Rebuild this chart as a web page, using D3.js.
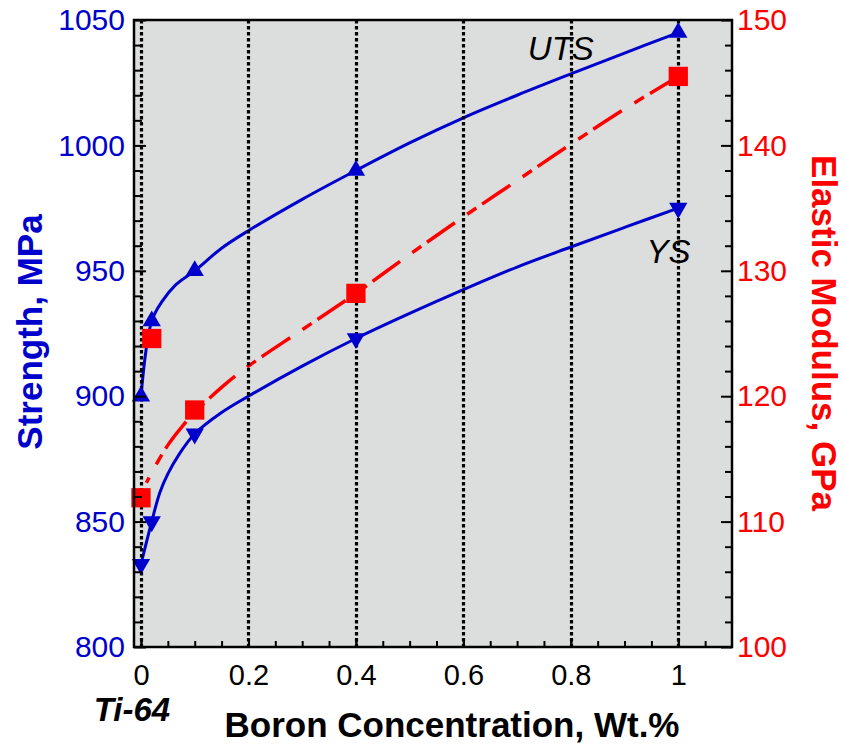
<!DOCTYPE html>
<html>
<head>
<meta charset="utf-8">
<script src="https://cdn.jsdelivr.net/npm/d3@7"></script>
<style>
  body { margin: 0; background: #fff; }
  svg { display: block; font-family: "Liberation Sans", Arial, Helvetica, sans-serif; }
</style>
</head>
<body>
<svg id="chart" width="846" height="748"></svg>
<script>
// measured data (markers)
const boron = [0, 0.02, 0.1, 0.4, 1];
const uts = [900, 930, 950, 990, 1045];
const ys = [833, 850, 885, 923, 975];
const modulus = [111.9, 124.6, 118.9, 128.2, 145.5];

// fitted curves
const utsFitBoron = [0, 0.02, 0.04, 0.065, 0.1, 0.15, 0.2, 0.3, 0.4, 0.5, 0.6, 0.7, 0.8, 0.9, 1.0];
const utsFit = [900, 930, 938, 944.5, 950, 959, 966, 978.5, 990, 1001, 1011, 1020, 1028.5, 1036.8, 1045];

const ysFitBoron = [0, 0.02, 0.035, 0.05, 0.07, 0.1, 0.15, 0.2, 0.3, 0.4, 0.5, 0.6, 0.7, 0.8, 0.9, 1.0];
const ysFit = [833, 850, 861.5, 869, 876.5, 885, 893.5, 900, 912, 923, 933, 942.5, 951.5, 959.5, 967.3, 975];

const fitBoron = [0.01, 0.025, 0.05, 0.075, 0.1, 0.15, 0.2, 0.3, 0.4, 0.5, 0.6, 0.7, 0.8, 0.9, 1.0];
const fitModulus = [113.1, 114.3, 116.1, 117.5, 118.7, 120.7, 122.4, 125.3, 128.2, 131.3, 134.3, 137.2, 140.1, 142.9, 145.5];

// tick labels
const xTicks = [0, 0.2, 0.4, 0.6, 0.8, 1];
const strengthTicks = [800, 850, 900, 950, 1000, 1050];
const modulusTicks = [100, 110, 120, 130, 140, 150];

const blue = "#0000cc";
const red = "#ff0000";

let svg = d3.select("#chart");

let plotLeft = 134, plotRight = 732, plotTop = 20, plotBottom = 647;

let x = d3.scaleLinear().domain([-0.013, 1.1]).range([plotLeft, plotRight]);
let yS = d3.scaleLinear().domain([800, 1050]).range([plotBottom, plotTop]);
let yE = d3.scaleLinear().domain([100, 150]).range([plotBottom, plotTop]);

// plot background
svg.append("rect")
  .attr("x", plotLeft).attr("y", plotTop)
  .attr("width", plotRight - plotLeft).attr("height", plotBottom - plotTop)
  .attr("fill", "#dcdedd");

// curves
function curvePath(xs, ys, yScale) {
  return d3.line()
    .x((d, i) => x(xs[i]))
    .y(d => yScale(d))
    .curve(d3.curveCatmullRom.alpha(0.5))(ys);
}

svg.append("path").attr("d", curvePath(utsFitBoron, utsFit, yS))
  .attr("fill", "none").attr("stroke", blue).attr("stroke-width", 3);
svg.append("path").attr("d", curvePath(ysFitBoron, ysFit, yS))
  .attr("fill", "none").attr("stroke", blue).attr("stroke-width", 3);

svg.append("path").attr("d", curvePath(fitBoron, fitModulus, yE))
  .attr("fill", "none").attr("stroke", red).attr("stroke-width", 3.5)
  .attr("stroke-dasharray", "34,15,11,7")
  .attr("stroke-dashoffset", 28);

// dotted vertical grid
svg.append("g").selectAll("line").data(xTicks).join("line")
  .attr("x1", d => Math.round(x(d)) + 0.5).attr("x2", d => Math.round(x(d)) + 0.5)
  .attr("y1", plotTop).attr("y2", plotBottom)
  .attr("stroke", "#000").attr("stroke-width", 3.2)
  .attr("stroke-dasharray", "3.5,2.5");

// markers
let up = d3.symbol().type(d3.symbolTriangle).size(145);
let square = d3.symbol().type(d3.symbolSquare).size(372);

svg.append("g").selectAll("path").data(uts).join("path")
  .attr("d", up)
  .attr("transform", (d, i) => `translate(${x(boron[i])},${yS(d)})`)
  .attr("fill", blue);

svg.append("g").selectAll("path").data(ys).join("path")
  .attr("d", up)
  .attr("transform", (d, i) => `translate(${x(boron[i])},${yS(d)}) rotate(180)`)
  .attr("fill", blue);

svg.append("g").selectAll("path").data(modulus).join("path")
  .attr("d", square)
  .attr("transform", (d, i) => `translate(${x(boron[i])},${yE(d)})`)
  .attr("fill", red);

// axes, ticks point inwards
function styleAxis(g, color, size) {
  g.select(".domain").remove();
  g.selectAll(".tick line").attr("stroke", "#000").attr("stroke-width", 2);
  g.selectAll(".tick text").attr("fill", color).style("font-size", size + "px");
}

let minorS = d3.range(800, 1051, 10).filter(v => v % 50 !== 0);
let minorE = d3.range(100, 151, 2).filter(v => v % 10 !== 0);
let minorX = d3.range(0, 1.1, 0.05);

svg.append("g").attr("transform", `translate(${plotLeft},0)`)
  .call(d3.axisLeft(yS).tickValues(minorS).tickSize(-8).tickFormat(""))
  .call(g => styleAxis(g, blue, 30));
svg.append("g").attr("transform", `translate(${plotLeft},0)`)
  .call(d3.axisLeft(yS).tickValues(strengthTicks).tickSize(-12).tickPadding(9).tickFormat(d3.format("d")))
  .call(g => styleAxis(g, blue, 30));

svg.append("g").attr("transform", `translate(${plotRight},0)`)
  .call(d3.axisRight(yE).tickValues(minorE).tickSize(-7).tickFormat(""))
  .call(g => styleAxis(g, red, 30));
svg.append("g").attr("transform", `translate(${plotRight},0)`)
  .call(d3.axisRight(yE).tickValues(modulusTicks).tickSize(-11).tickPadding(5).tickFormat(d3.format("d")))
  .call(g => styleAxis(g, red, 30));

svg.append("g").attr("transform", `translate(0,${plotBottom})`)
  .call(d3.axisBottom(x).tickValues(minorX).tickSize(-6).tickFormat(""))
  .call(g => styleAxis(g, "#000", 29));
svg.append("g").attr("transform", `translate(0,${plotBottom})`)
  .call(d3.axisBottom(x).tickValues(xTicks).tickSize(-6).tickPadding(17).tickFormat(d3.format("")))
  .call(g => styleAxis(g, "#000", 29));

// frame
svg.append("rect")
  .attr("x", plotLeft).attr("y", plotTop)
  .attr("width", plotRight - plotLeft).attr("height", plotBottom - plotTop)
  .attr("fill", "none").attr("stroke", "#000").attr("stroke-width", 2.5);

// series labels
svg.append("text").text("UTS")
  .attr("x", x(0.72)).attr("y", yS(1034))
  .attr("font-size", 33).attr("font-style", "italic").attr("fill", "#000");
svg.append("text").text("YS")
  .attr("x", x(0.941)).attr("y", yS(953))
  .attr("font-size", 33).attr("font-style", "italic").attr("fill", "#000");

// axis titles
svg.append("text").text("Boron Concentration, Wt.%")
  .attr("x", 452).attr("y", 737)
  .attr("text-anchor", "middle")
  .attr("font-size", 35).attr("font-weight", "bold").attr("fill", "#000");

svg.append("text").text("Ti-64")
  .attr("x", 132).attr("y", 721)
  .attr("text-anchor", "middle")
  .attr("font-size", 33).attr("font-weight", "bold").attr("font-style", "italic").attr("fill", "#000");

svg.append("text").text("Strength, MPa")
  .attr("transform", "translate(42,332) rotate(-90)")
  .attr("text-anchor", "middle")
  .attr("font-size", 35).attr("font-weight", "bold").attr("fill", blue);

svg.append("text").text("Elastic Modulus, GPa")
  .attr("transform", "translate(812,333) rotate(90)")
  .attr("text-anchor", "middle")
  .attr("font-size", 35).attr("font-weight", "bold").attr("fill", red);
</script>
</body>
</html>
